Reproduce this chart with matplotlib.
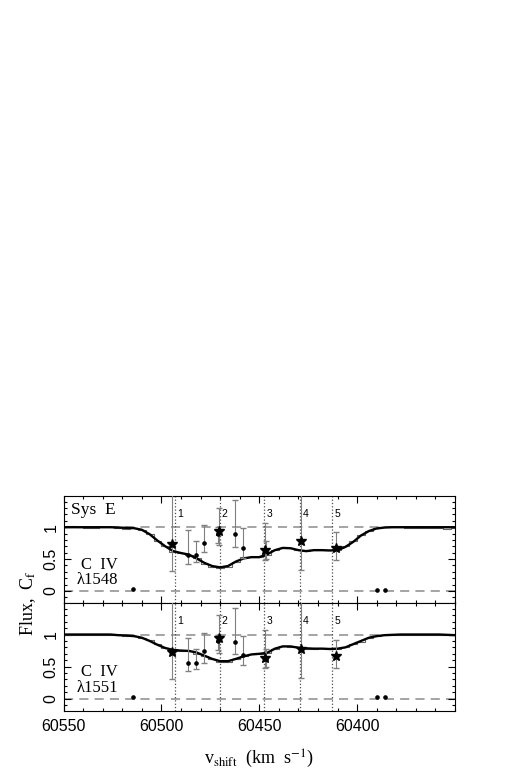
import numpy as np
import matplotlib
matplotlib.use("Agg")
import matplotlib.pyplot as plt
from matplotlib.ticker import MultipleLocator

plt.rcParams['mathtext.fontset'] = 'stix'

# velocity grid of the profiles (km/s)
vel = [60550, 60546, 60542, 60538, 60534, 60530, 60526, 60522, 60518, 60514,
       60510, 60506, 60502, 60498, 60494, 60490, 60486, 60482, 60478, 60474,
       60470, 60466, 60462, 60458, 60454, 60450, 60446, 60442, 60438, 60434,
       60430, 60426, 60422, 60418, 60414, 60410, 60406, 60402, 60398, 60394,
       60390, 60386, 60382, 60378, 60374, 60370, 60366, 60362, 60358, 60354,
       60350]

# C IV 1548 : model fit and observed flux
model_1548 = [1.00, 1.00, 1.00, 1.00, 1.00, 1.00, 1.00, 0.995, 0.99, 0.985,
              0.96, 0.89, 0.79, 0.70, 0.625, 0.595, 0.57, 0.51, 0.44, 0.39,
              0.37, 0.39, 0.46, 0.51, 0.53, 0.53, 0.575, 0.64, 0.675, 0.67,
              0.64, 0.625, 0.64, 0.64, 0.635, 0.64, 0.69, 0.77, 0.87, 0.94,
              0.98, 0.995, 1.00, 1.00, 1.00, 1.00, 1.00, 1.00, 1.00, 1.00,
              1.00]
flux_1548 = [1.00, 1.02, 1.01, 0.98, 0.985, 1.01, 1.00, 0.995, 0.975, 0.99,
             0.96, 0.90, 0.78, 0.70, 0.61, 0.59, 0.57, 0.52, 0.43, 0.38,
             0.36, 0.37, 0.46, 0.53, 0.53, 0.53, 0.57, 0.64, 0.68, 0.67,
             0.64, 0.63, 0.65, 0.645, 0.64, 0.64, 0.70, 0.78, 0.87, 0.94,
             0.98, 1.00, 1.01, 1.00, 0.99, 0.985, 0.99, 0.98, 0.985, 0.975,
             0.98]

# C IV 1551 : model fit and observed flux
model_1551 = [1.00, 1.00, 1.00, 1.00, 1.00, 1.00, 1.00, 0.99, 0.985, 0.975,
              0.95, 0.90, 0.84, 0.79, 0.76, 0.75, 0.745, 0.72, 0.67, 0.62,
              0.585, 0.585, 0.62, 0.66, 0.69, 0.70, 0.715, 0.78, 0.815, 0.815,
              0.795, 0.785, 0.78, 0.78, 0.775, 0.78, 0.80, 0.85, 0.90, 0.95,
              0.975, 0.99, 0.995, 1.00, 1.00, 1.00, 1.00, 1.00, 1.00, 0.995,
              0.99]
flux_1551 = [1.00, 0.99, 0.995, 1.00, 0.99, 1.00, 1.00, 0.985, 0.98, 0.975,
             0.95, 0.91, 0.85, 0.79, 0.77, 0.75, 0.74, 0.70, 0.66, 0.62,
             0.58, 0.58, 0.62, 0.67, 0.70, 0.70, 0.71, 0.78, 0.82, 0.81,
             0.80, 0.78, 0.78, 0.785, 0.77, 0.78, 0.80, 0.85, 0.89, 0.95,
             0.98, 0.99, 1.00, 1.00, 0.995, 1.00, 1.00, 0.995, 0.99, 0.99,
             0.985]

# fitted components
comp_v = [60493.0, 60470.3, 60447.5, 60429.0, 60412.6]
comp_lab = ['1', '2', '3', '4', '5']

# coverage fraction of the components (stars)
star_v = [60494.7, 60470.8, 60447.1, 60428.7, 60411.0]
star_c = [0.73, 0.94, 0.64, 0.78, 0.67]
star_lo = [0.31, 0.72, 0.48, 0.33, 0.48]
star_hi = [1.55, 1.30, 1.07, 1.55, 0.92]

# coverage fraction per pixel (dots)
dot_v = [60486.4, 60482.3, 60478.4, 60471.0, 60462.2, 60458.3, 60446.5]
dot_c_1548 = [0.57, 0.56, 0.76, 0.90, 0.90, 0.67, 0.62]
dot_lo_1548 = [0.43, 0.46, 0.61, 0.76, 0.69, 0.52, 0.50]
dot_hi_1548 = [0.95, 0.79, 1.04, 1.00, 1.43, 0.98, 0.78]
dot_c_1551 = [0.56, 0.56, 0.745, 0.90, 0.885, 0.68, 0.62]
dot_lo_1551 = [0.43, 0.46, 0.56, 0.76, 0.69, 0.52, 0.50]
dot_hi_1551 = [0.94, 0.78, 1.03, 1.00, 1.42, 0.97, 0.78]

# saturated pixels near zero
zero_v = [60514.4, 60390.0, 60385.9]
zero_c = [0.03, 0.02, 0.02]

x_ticks = [60550, 60500, 60450, 60400]

panels = [
    ("1548", model_1548, flux_1548, dot_c_1548, dot_lo_1548, dot_hi_1548),
    ("1551", model_1551, flux_1551, dot_c_1551, dot_lo_1551, dot_hi_1551),
]

fig = plt.figure(figsize=(5.18, 7.75), dpi=100)
ax_top = fig.add_axes([0.1226, 0.2219, 0.7558, 0.1381])
ax_bot = fig.add_axes([0.1226, 0.0826, 0.7558, 0.1393], sharex=ax_top)

for ax, (line, model, flux, dc, dlo, dhi) in zip([ax_top, ax_bot], panels):
    ax.axhline(1.0, color='0.55', ls=(0, (6, 4)), lw=1.1, zorder=1)
    ax.axhline(0.0, color='0.55', ls=(0, (6, 4)), lw=1.1, zorder=1)
    for v in comp_v:
        ax.axvline(v, color='0.3', ls=':', lw=0.9, zorder=1)

    ax.step(vel, flux, where='mid', color='0.4', lw=0.8, zorder=2)
    ax.plot(vel, model, color='black', lw=1.7, zorder=3)

    # error bars
    ax.errorbar(star_v, star_c,
                yerr=[np.subtract(star_c, star_lo), np.subtract(star_hi, star_c)],
                fmt='none', ecolor='0.5', elinewidth=0.8, capsize=2.5, zorder=4)
    ax.plot(star_v, star_c, ls='none', marker='*', ms=7.5, color='black', zorder=5)
    ax.errorbar(dot_v, dc,
                yerr=[np.subtract(dc, dlo), np.subtract(dhi, dc)],
                fmt='none', ecolor='0.5', elinewidth=0.8, capsize=2.5, zorder=4)
    ax.plot(dot_v, dc, ls='none', marker='o', ms=2.3, color='black', zorder=5)
    ax.plot(zero_v, zero_c, ls='none', marker='o', ms=2.3, color='black', zorder=5)

    for v, lab in zip(comp_v, comp_lab):
        ax.text(v - 1.2, 1.13, lab, fontsize=7.5, family='Liberation Sans',
                ha='left', va='bottom')

    ax.text(60541, 0.41, 'C  IV', fontsize=12, family='Liberation Serif',
            ha='left', va='center')
    ax.text(60543.5, 0.17, 'λ' + line, fontsize=12, family='Liberation Serif',
            ha='left', va='center')

    ax.set_xlim(60550, 60350)
    ax.set_ylim(-0.19, 1.49)
    ax.set_xticks(x_ticks)
    ax.xaxis.set_minor_locator(MultipleLocator(10))
    ax.yaxis.set_minor_locator(MultipleLocator(0.1))
    ax.tick_params(which='both', direction='in', top=True, right=True)
    ax.tick_params(which='major', length=5, width=0.8)
    ax.tick_params(which='minor', length=2.5, width=0.8)
    ax.set_yticks([0, 0.5, 1])
    ax.set_yticklabels(['0', '0.5', '1'], rotation=90, va='center',
                       family='Liberation Sans', fontsize=11.5)
    for s in ax.spines.values():
        s.set_linewidth(0.8)

ax_top.text(60546, 1.27, 'Sys  E', fontsize=12.5, family='Liberation Serif',
            ha='left', va='center')
ax_top.tick_params(labelbottom=False)

for lab in ax_bot.get_xticklabels():
    lab.set_family('Liberation Sans')
    lab.set_fontsize(11.5)
ax_bot.tick_params(axis='x', pad=6)

ax_bot.set_xlabel(r'v$_{\rm shift}$  (km  s$^{-1}$)', fontsize=13,
                  family='Liberation Serif', labelpad=10)
fig.text(0.055, 0.222, r'Flux,  C$_{\rm f}$', rotation=90, fontsize=13,
         family='Liberation Serif', ha='center', va='center')

fig.savefig('out.png', dpi=100)
